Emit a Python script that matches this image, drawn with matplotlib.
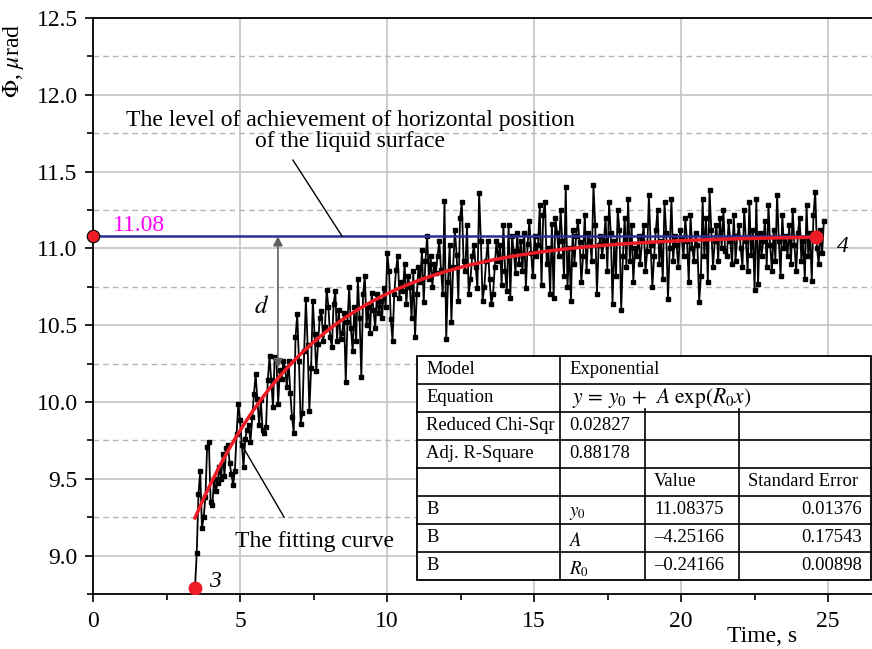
import numpy as np
import matplotlib
matplotlib.use("Agg")
import matplotlib.pyplot as plt
from matplotlib.patches import Rectangle
from matplotlib.ticker import MultipleLocator

plt.rcParams['font.family'] = ['Liberation Serif', 'DejaVu Serif']
plt.rcParams['mathtext.fontset'] = 'stix'

# measured tilt angle, sampled from t_start to t_end
t_start, t_end = 3.47, 24.86
phi = [
    8.79, 9.02, 9.40, 9.55, 9.18, 9.25, 9.38, 9.71, 9.74, 9.35, 9.33, 9.50, 9.42, 9.47, 9.58, 9.50, 9.66, 9.52,
    9.70, 9.72, 9.60, 9.53, 9.46, 9.55, 9.79, 9.99, 9.88, 9.72, 9.58, 9.76, 9.82, 9.85, 9.74, 9.90, 10.05,
    10.18, 10.02, 9.85, 10.01, 9.82, 9.80, 9.84, 10.14, 10.30, 10.14, 9.97, 10.29, 10.27, 9.99, 10.21, 10.15, 10.27,
    10.22, 10.10, 10.27, 10.06, 9.90, 9.80, 10.42, 10.57, 10.27, 9.86, 9.93, 10.33, 10.67, 10.37, 9.94, 10.22, 10.66,
    10.44, 10.20, 10.38, 10.55, 10.59, 10.40, 10.49, 10.73, 10.62, 10.42, 10.36, 10.64, 10.72, 10.40, 10.60, 10.41, 10.45,
    10.58, 10.13, 10.52, 10.75, 10.48, 10.33, 10.62, 10.40, 10.80, 10.55, 10.16, 10.70, 10.82, 10.50, 10.62, 10.45, 10.71,
    10.60, 10.48, 10.70, 10.58, 10.66, 10.55, 10.74, 10.62, 10.97, 10.85, 10.54, 10.40, 10.70, 10.86, 10.95, 10.68, 10.78,
    10.72, 10.90, 10.64, 10.82, 10.75, 10.55, 10.85, 10.42, 10.70, 10.88, 10.78, 10.99, 10.65, 10.92, 11.08, 10.80, 10.95,
    10.75, 10.90, 10.84, 10.95, 11.05, 10.86, 10.70, 11.31, 10.41, 10.78, 11.02, 10.52, 10.88, 11.12, 10.96, 10.66, 11.20,
    11.30, 10.92, 10.85, 11.15, 10.70, 10.80, 10.95, 11.02, 10.88, 10.74, 11.36, 11.05, 10.66, 10.75, 10.92, 11.05, 10.80,
    10.64, 10.70, 10.88, 11.05, 10.92, 11.02, 10.76, 11.15, 10.85, 10.72, 11.15, 10.68, 11.08, 10.98, 10.84, 11.10, 10.90,
    11.05, 10.85, 11.10, 10.74, 11.03, 11.18, 10.97, 10.82, 11.08, 10.95, 11.02, 11.28, 10.76, 11.22, 11.30, 10.90, 11.00,
    10.70, 11.16, 10.68, 11.20, 11.10, 10.95, 11.25, 11.05, 10.82, 11.40, 10.75, 11.00, 10.66, 11.12, 10.90, 11.08, 11.18,
    11.04, 10.78, 10.95, 11.22, 10.85, 11.10, 11.05, 10.92, 11.41, 11.15, 10.70, 11.02, 11.08, 10.95, 11.05, 11.20, 10.85,
    11.30, 11.10, 10.64, 11.05, 10.82, 11.25, 11.12, 10.60, 10.95, 11.20, 10.88, 11.32, 10.92, 11.15, 10.78, 11.00, 10.95,
    11.08, 10.90, 11.05, 11.15, 10.85, 10.98, 11.35, 11.02, 10.75, 10.95, 11.12, 11.25, 10.90, 11.05, 10.80, 11.30, 11.10,
    10.67, 11.00, 11.32, 10.92, 11.08, 11.02, 10.88, 11.12, 11.06, 10.95, 11.20, 11.05, 10.78, 11.22, 11.00, 10.92, 11.10,
    11.02, 10.65, 10.82, 11.32, 10.95, 11.20, 10.78, 11.38, 11.12, 10.88, 11.05, 11.15, 10.92, 11.20, 11.00, 11.25, 10.98,
    10.95, 11.18, 11.05, 10.90, 11.22, 10.92, 11.08, 11.15, 11.00, 10.88, 11.25, 11.05, 10.85, 11.30, 10.96, 11.12, 10.73,
    11.32, 10.77, 11.10, 10.95, 11.05, 11.18, 10.88, 11.28, 11.02, 10.85, 11.12, 10.92, 11.35, 11.05, 10.82, 11.22, 11.00,
    11.08, 10.95, 11.15, 10.90, 11.25, 11.02, 10.85, 11.10, 11.20, 10.92, 11.05, 10.80, 11.28, 10.95, 11.10, 10.79, 11.22,
    11.37, 11.00, 10.90, 11.12, 10.97, 11.18,
]

# exponential fit y = y0 + A*exp(R0*x)
y0, A, R0 = 11.08375, -4.25166, -0.24166
fit_start, fit_end = 3.47, 24.6
level = 11.08

table_rows = [
    ["Model", "Exponential", "", ""],
    ["Equation", r"$y\,=\,y_0\,+\;\,A\;\exp(R_0x)$", "", ""],
    ["Reduced Chi-Sqr", "0.02827", "", ""],
    ["Adj. R-Square", "0.88178", "", ""],
    ["", "", "Value", "Standard Error"],
    ["B", "$y_0$", "11.08375", "0.01376"],
    ["B", "$A$", "\u20134.25166", "0.17543"],
    ["B", "$R_0$", "\u20130.24166", "0.00898"],
]

t = np.linspace(t_start, t_end, len(phi))
tf = np.linspace(fit_start, fit_end, 300)
yf = y0 + A * np.exp(R0 * tf)

fig = plt.figure(figsize=(8.72, 6.49), dpi=100)
ax = fig.add_axes([93 / 872, 55 / 649, 26.6 * 29.4 / 872, 576 / 649])
ax.set_xlim(0, 26.6)
ax.set_ylim(8.75, 12.5)

ax.xaxis.set_major_locator(MultipleLocator(5))
ax.xaxis.set_minor_locator(MultipleLocator(2.5))
ax.yaxis.set_major_locator(MultipleLocator(0.5))
ax.yaxis.set_minor_locator(MultipleLocator(0.25))
ax.yaxis.set_major_formatter(matplotlib.ticker.FormatStrFormatter('%.1f'))
ax.tick_params(which='major', direction='out', length=6, width=1.2, labelsize=17, pad=5)
ax.tick_params(axis='x', which='major', pad=6)
ax.tick_params(which='minor', direction='out', length=4, width=1.2)
ax.grid(which='major', color='#c8c8c8', lw=1.3)
ax.grid(which='minor', axis='y', color='#b4b4b4', lw=1.0, ls=(0, (4, 3)))
ax.set_axisbelow(True)
for s in ['left', 'bottom', 'top']:
    ax.spines[s].set_linewidth(1.3)
ax.spines['right'].set_visible(False)

ax.plot(t, phi, color='black', lw=1.3, marker='s', ms=3.2, zorder=3)
ax.plot([0, fit_end], [level, level], color='#2b2f94', lw=1.8, zorder=4)
ax.plot(tf, yf, color='#ee1c25', lw=2.5, zorder=5)

ax.plot([0], [level], 'o', color='#ee1c25', mec='black', mew=0.8, ms=9, clip_on=False, zorder=6)
ax.plot([t[0]], [phi[0]], 'o', color='#ee1c25', ms=9, zorder=6)
ax.plot([fit_end], [yf[-1]], 'o', color='#ee1c25', ms=9, zorder=6)

ax.text(0.68, 11.15, "11.08", color='#ff00ff', fontsize=17, ha='left', va='center')
ax.text(4.15, 8.83, "3", fontsize=17, style='italic', ha='center', va='center')
ax.text(25.5, 11.01, "4", fontsize=17, style='italic', ha='center', va='center')

ax.text(8.74, 11.765, "The level of achievement of horizontal position\nof the liquid surface",
        fontsize=17, ha='center', va='center', multialignment='center', linespacing=1.0)
ax.plot([6.80, 8.47], [11.575, 11.08], color='black', lw=1.0, zorder=4)

ax.text(7.55, 9.09, "The fitting curve", fontsize=17, ha='center', va='center')
ax.plot([6.50, 5.0], [9.25, 9.74], color='black', lw=1.0, zorder=6)

ax.annotate("", xy=(6.29, level), xytext=(6.29, 10.22),
            arrowprops=dict(arrowstyle='<|-|>', color='#606060', lw=1.2,
                            mutation_scale=14, shrinkA=0, shrinkB=0), zorder=4)
ax.text(5.75, 10.62, "$d$", fontsize=18, ha='center', va='center')

fig.text(14 / 872, 1 - 61 / 649, r"$\Phi$, $\mu$rad", rotation=90, fontsize=17,
         ha='center', va='center')
fig.text(762 / 872, 1 - 636 / 649, "Time, s", fontsize=17, ha='center', va='center')

# fit parameter table drawn in pixel space
tab = fig.add_axes([0, 0, 1, 1], zorder=10)
tab.set_xlim(0, 872)
tab.set_ylim(649, 0)
tab.axis('off')
row_edges = [356, 384, 412, 440, 468, 496, 524, 552, 580]
col_edges = [417, 560, 645, 739, 871]
tab.add_patch(Rectangle((col_edges[0], row_edges[0]), col_edges[-1] - col_edges[0],
                        row_edges[-1] - row_edges[0], facecolor='white', edgecolor='black', lw=1.3))
for yy in row_edges[1:-1]:
    tab.plot([col_edges[0], col_edges[-1]], [yy, yy], color='black', lw=1.2)
tab.plot([col_edges[1], col_edges[1]], [row_edges[0], row_edges[-1]], color='black', lw=1.2)
for xx in col_edges[2:4]:
    tab.plot([xx, xx], [row_edges[2] - 3, row_edges[-1]], color='black', lw=1.2)

for i, row in enumerate(table_rows):
    yc = (row_edges[i] + row_edges[i + 1]) / 2
    for j, txt in enumerate(row):
        if not txt:
            continue
        if j == 3 and i > 4:
            tab.text(col_edges[4] - 9, yc, txt, fontsize=13.4, ha='right', va='center')
        elif i == 1 and j == 1:
            tab.text(col_edges[j] + 12, yc, txt, fontsize=15.5, ha='left', va='center')
        else:
            dy = 3 if (j == 1 and i > 4) else 0
            tab.text(col_edges[j] + 9, yc + dy, txt, fontsize=13.4, ha='left', va='center')

fig.savefig("out.png", dpi=100)
